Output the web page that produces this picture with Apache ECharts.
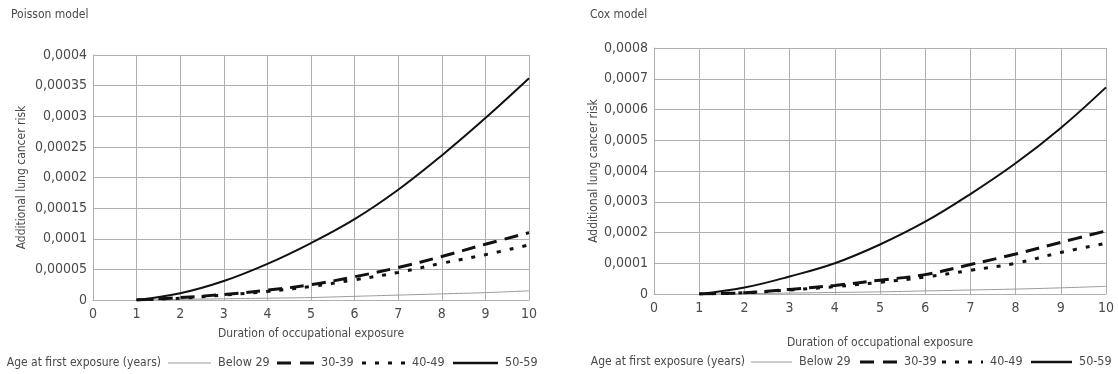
<!DOCTYPE html>
<html>
<head>
<meta charset="utf-8">
<script src="https://cdn.jsdelivr.net/npm/echarts@6/dist/echarts.min.js"></script>
<style>
html,body{margin:0;padding:0;background:#fff;}
#c{width:1118px;height:374px;}
</style>
</head>
<body>
<div id="c"></div>
<script>
// ---- data ----
var durations = [1, 2, 3, 4, 5, 6, 7, 8, 9, 10];
var seriesNames = ['Below 29', '30-39', '40-49', '50-59'];

var poissonBelow29 = [0, 0.000001, 0.000002, 0.000003, 0.000004, 0.000006, 0.000008, 0.000010, 0.000012, 0.000015];
var poisson30_39  = [0, 0.000004, 0.000009, 0.000016, 0.000025, 0.000038, 0.000053, 0.000071, 0.000091, 0.000110];
var poisson40_49  = [0, 0.000003, 0.000008, 0.000014, 0.000022, 0.000033, 0.000045, 0.000060, 0.000074, 0.000090];
var poisson50_59  = [0, 0.000011, 0.000031, 0.000059, 0.000093, 0.000132, 0.000180, 0.000236, 0.000297, 0.000362];

var coxBelow29 = [0, 0.000001, 0.000003, 0.000005, 0.000007, 0.000010, 0.000013, 0.000016, 0.000020, 0.000025];
var cox30_39  = [0, 0.000004, 0.000015, 0.000028, 0.000045, 0.000063, 0.000096, 0.000130, 0.000168, 0.000205];
var cox40_49  = [0, 0.000004, 0.000013, 0.000024, 0.000038, 0.000055, 0.000077, 0.000100, 0.000135, 0.000165];
var cox50_59  = [0, 0.000021, 0.000057, 0.000100, 0.000161, 0.000235, 0.000325, 0.000425, 0.000540, 0.000672];

var xTickLabels = ['0', '1', '2', '3', '4', '5', '6', '7', '8', '9', '10'];
var poissonYTickLabels = ['0', '0,00005', '0,0001', '0,00015', '0,0002', '0,00025', '0,0003', '0,00035', '0,0004'];
var coxYTickLabels = ['0', '0,0001', '0,0002', '0,0003', '0,0004', '0,0005', '0,0006', '0,0007', '0,0008'];

var titles = ['Poisson model', 'Cox model'];
var xAxisName = 'Duration of occupational exposure';
var yAxisName = 'Additional lung cancer risk';
var legendTitle = 'Age at first exposure (years)';

// ---- chart ----
var FONT = '"DejaVu Sans Condensed", "Liberation Sans Narrow", sans-serif';
var TXT = '#4a4a4a';
var GRIDC = '#b0b0b0';

function pairs(vals) { return durations.map(function (d, i) { return [d, vals[i]]; }); }

var styles = [
  { color: '#9a9a9a', width: 1, type: 'solid' },
  { color: '#111', width: 3, type: [14, 8] },
  { color: '#111', width: 3, type: [4, 9] },
  { color: '#111', width: 2, type: 'solid' }
];

function mkSeries(name, vals, idx, k) {
  var s = styles[k];
  return {
    name: name, type: 'line', xAxisIndex: idx, yAxisIndex: idx,
    data: pairs(vals), showSymbol: false, symbol: 'none',
    smooth: 0.4,
    lineStyle: { color: s.color, width: s.width, type: s.type, cap: 'butt' },
    itemStyle: { color: s.color },
    z: 3 + k, silent: true, animation: false
  };
}

function xAx(idx, gap) {
  return {
    type: 'value', gridIndex: idx, min: 0, max: 10, interval: 1,
    name: xAxisName, nameLocation: 'middle', nameGap: gap,
    nameTextStyle: { fontFamily: FONT, fontSize: 12, color: TXT },
    axisLine: { show: true, lineStyle: { color: GRIDC, width: 1 } },
    axisTick: { show: false },
    axisLabel: { fontFamily: FONT, fontSize: 14, color: TXT, margin: 7,
      formatter: function (v) { return xTickLabels[Math.round(v)]; } },
    splitLine: { show: true, lineStyle: { color: GRIDC, width: 1 } }
  };
}

function yAx(idx, max, interval, labels, gap) {
  return {
    type: 'value', gridIndex: idx, min: 0, max: max, interval: interval,
    name: yAxisName, nameLocation: 'middle', nameGap: gap, nameRotate: 90,
    nameTextStyle: { fontFamily: FONT, fontSize: 12, color: TXT },
    axisLine: { show: true, lineStyle: { color: GRIDC, width: 1 } },
    axisTick: { show: false },
    axisLabel: { fontFamily: FONT, fontSize: 14, color: TXT, margin: 6,
      formatter: function (v) { return labels[Math.round(v / interval)]; } },
    splitLine: { show: true, lineStyle: { color: GRIDC, width: 1 } }
  };
}

// hand-built legend (line key + label), so dash patterns show without markers
function legendGraphics(titleRight, cy, lineStarts, lineLens) {
  var els = [];
  els.push({ type: 'text', x: titleRight, y: cy, silent: true,
    style: { text: legendTitle, fontFamily: FONT, fontSize: 12, fill: TXT, align: 'right', verticalAlign: 'middle' } });
  var keyWidths = [1, 3, 3, 2.5];
  var keyDash = [null, [14, 9], [4, 9], null];
  for (var k = 0; k < seriesNames.length; k++) {
    var x0 = lineStarts[k], x1 = lineStarts[k] + lineLens[k];
    els.push({ type: 'line', silent: true,
      shape: { x1: x0, y1: cy, x2: x1, y2: cy },
      style: { stroke: styles[k].color, lineWidth: keyWidths[k], lineDash: keyDash[k], lineCap: 'butt' } });
    els.push({ type: 'text', x: x1 + 7, y: cy, silent: true,
      style: { text: seriesNames[k], fontFamily: FONT, fontSize: 12.5, fill: TXT, verticalAlign: 'middle' } });
  }
  return els;
}

var graphics = []
  .concat(legendGraphics(161, 363, [168, 277, 362, 453], [43, 37, 43, 45]))
  .concat(legendGraphics(745, 362, [751, 860, 942, 1031], [41, 37, 41, 41]));

var chart = echarts.init(document.getElementById('c'), null, { renderer: 'canvas' });
chart.setOption({
  backgroundColor: '#fff',
  animation: false,
  title: [
    { text: titles[0], left: 11, top: 9, padding: 0, textStyle: { fontFamily: FONT, fontSize: 12, fontWeight: 'normal', color: TXT } },
    { text: titles[1], left: 590, top: 9, padding: 0, textStyle: { fontFamily: FONT, fontSize: 12, fontWeight: 'normal', color: TXT } }
  ],
  grid: [
    { left: 93, top: 55, width: 436, height: 245 },
    { left: 654, top: 48, width: 452, height: 246 }
  ],
  xAxis: [xAx(0, 28), xAx(1, 43)],
  yAxis: [
    yAx(0, 0.0004, 0.00005, poissonYTickLabels, 65),
    yAx(1, 0.0008, 0.0001, coxYTickLabels, 52)
  ],
  graphic: graphics,
  series: [
    mkSeries(seriesNames[0], poissonBelow29, 0, 0),
    mkSeries(seriesNames[1], poisson30_39, 0, 1),
    mkSeries(seriesNames[2], poisson40_49, 0, 2),
    mkSeries(seriesNames[3], poisson50_59, 0, 3),
    mkSeries(seriesNames[0], coxBelow29, 1, 0),
    mkSeries(seriesNames[1], cox30_39, 1, 1),
    mkSeries(seriesNames[2], cox40_49, 1, 2),
    mkSeries(seriesNames[3], cox50_59, 1, 3)
  ]
});
</script>
</body>
</html>
